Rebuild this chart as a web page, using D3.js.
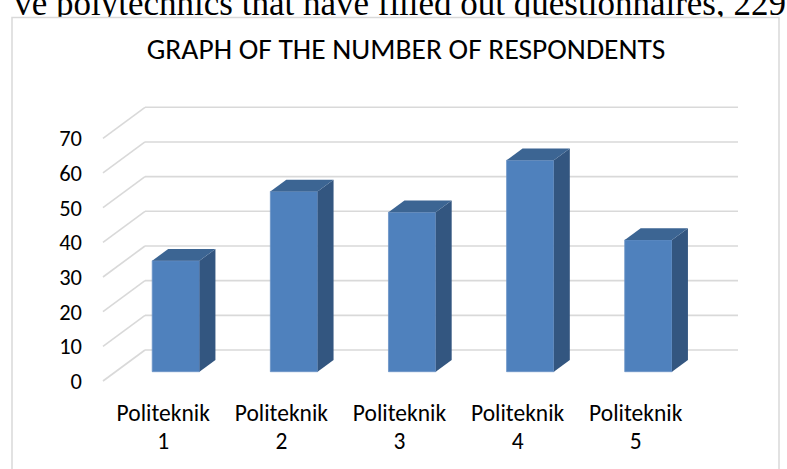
<!DOCTYPE html>
<html>
<head>
<meta charset="utf-8">
<script src="https://cdn.jsdelivr.net/npm/d3@7/dist/d3.min.js"></script>
<style>
  html, body { margin: 0; padding: 0; background: #fff; }
  svg { display: block; }
</style>
</head>
<body>
<svg id="chart" width="787" height="469"></svg>
<script>
// Respondents per polytechnic
const categories = ["Politeknik 1", "Politeknik 2", "Politeknik 3", "Politeknik 4", "Politeknik 5"];
const respondents = [32, 52, 46, 61, 38];
const yTicks = [0, 10, 20, 30, 40, 50, 60, 70];
const titleText = "GRAPH OF THE NUMBER OF RESPONDENTS";
const bodyText = "ve polytechnics that have filled out  questionnaires, 229";

const svg = d3.select("#chart");
const uiFont = "Carlito, Lato, 'Open Sans', sans-serif";

// Paragraph line running above the chart frame
svg.append("text")
  .attr("x", 786).attr("y", 15)
  .attr("text-anchor", "end")
  .attr("font-family", "'Liberation Serif', 'Times New Roman', serif")
  .attr("font-size", 35)
  .attr("fill", "#000")
  .text(bodyText);

// Chart frame
svg.append("rect")
  .attr("x", 12).attr("y", 17.5)
  .attr("width", 767).attr("height", 470)
  .attr("fill", "#fff")
  .attr("stroke", "#d9d9d9").attr("stroke-width", 1.5);

// Title
svg.append("text")
  .attr("x", 406).attr("y", 59)
  .attr("text-anchor", "middle")
  .attr("font-family", uiFont)
  .attr("font-size", 29.5)
  .attr("fill", "#000")
  .text(titleText);

// Oblique 3-D layout: back wall is the reference plane; front edge is shifted left/down
const depthDX = 42, depthDY = 31;
const backLeft = 145, backRight = 738;

const y = d3.scaleLinear().domain([0, 70]).range([350, 107.3]);
const x = d3.scaleBand().domain(categories).range([backLeft, backRight])
  .paddingInner(0.6).paddingOuter(0.31);

// Bars sit between these fractions of the floor depth (0 = back wall, 1 = front edge)
const barFront = 0.70, barBack = 0.32;

const grid = svg.append("g")
  .attr("stroke", "#d9d9d9").attr("stroke-width", 1.6).attr("fill", "none");

// Back wall gridlines
grid.selectAll("line.h").data(yTicks).join("line")
  .attr("class", "h")
  .attr("x1", backLeft).attr("x2", backRight)
  .attr("y1", d => y(d)).attr("y2", d => y(d));

// Side wall gridlines
grid.selectAll("line.d").data(yTicks).join("line")
  .attr("class", "d")
  .attr("x1", backLeft - depthDX).attr("y1", d => y(d) + depthDY)
  .attr("x2", backLeft).attr("y2", d => y(d));

// Value axis labels on the front edge
svg.append("g").selectAll("text").data(yTicks).join("text")
  .attr("x", 82)
  .attr("y", d => y(d) + depthDY)
  .attr("dy", "0.35em")
  .attr("text-anchor", "end")
  .attr("font-family", uiFont)
  .attr("font-size", 22.5)
  .attr("fill", "#000")
  .text(d => d);

// 3-D bars
const fx = barFront * depthDX, fy = barFront * depthDY;
const bx = barBack * depthDX, by = barBack * depthDY;
const bw = x.bandwidth();

const bars = svg.append("g").selectAll("g.bar")
  .data(categories.map((c, i) => ({ c, v: respondents[i] })))
  .join("g").attr("class", "bar");

// front face
bars.append("path")
  .attr("fill", "#4f81bd")
  .attr("stroke", "#6b93c7").attr("stroke-width", 0.8)
  .attr("d", d => {
    const x0 = x(d.c) - fx, x1 = x0 + bw;
    const yt = y(d.v) + fy, yb = y(0) + fy;
    return `M${x0},${yb}L${x0},${yt}L${x1},${yt}L${x1},${yb}Z`;
  });

// right side face
bars.append("path")
  .attr("fill", "#335680")
  .attr("d", d => {
    const x1 = x(d.c) - fx + bw, x2 = x(d.c) - bx + bw;
    return `M${x1},${y(0) + fy}L${x1},${y(d.v) + fy}L${x2},${y(d.v) + by}L${x2},${y(0) + by}Z`;
  });

// top face
bars.append("path")
  .attr("fill", "#3c6593")
  .attr("d", d => {
    const x0 = x(d.c) - fx, x1 = x0 + bw;
    const yt = y(d.v) + fy;
    const x2 = x(d.c) - bx, x3 = x2 + bw;
    const yt2 = y(d.v) + by;
    return `M${x0},${yt}L${x2},${yt2}L${x3},${yt2}L${x1},${yt}Z`;
  });

// Category labels along the front edge of the floor
const catLabels = svg.append("g").selectAll("text").data(categories).join("text")
  .attr("text-anchor", "middle")
  .attr("font-family", uiFont)
  .attr("font-size", 23.5)
  .attr("fill", "#000");

catLabels.each(function(d) {
  const cx = x(d) + bw / 2 - depthDX;
  const cut = d.lastIndexOf(" ");
  const t = d3.select(this);
  t.append("tspan").attr("x", cx).attr("y", 420.5).text(d.slice(0, cut));
  t.append("tspan").attr("x", cx).attr("y", 449).text(d.slice(cut + 1));
});
</script>
</body>
</html>
